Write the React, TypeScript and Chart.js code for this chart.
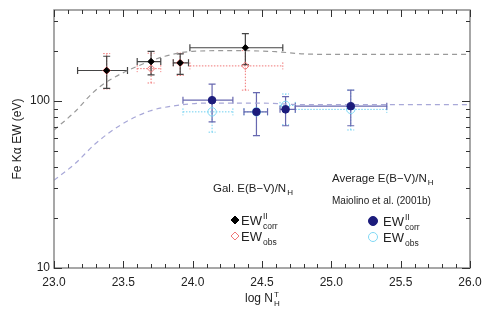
import React, { useEffect, useRef } from 'react';
import { Chart, registerables } from 'chart.js';
Chart.register(...registerables);

// Galactic E(B-V)/N_H points
const galX = [23.38, 23.70, 23.91, 24.38];
const galXLo = [23.17, 23.60, 23.86, 23.98];
const galXHi = [23.53, 23.77, 23.97, 24.65];
const galCorr = [152, 172, 169, 208];
const galCorrLo = [119, 143, 144, 165];
const galCorrHi = [185, 198, 191, 253];
const galObs = [152, 156, 169, 162];
const galObsLo = [118, 128, 142, 116];
const galObsHi = [192, 193, 193, 200];

// Maiolino et al. (2001b) points
const maiX = [24.14, 24.46, 24.67, 25.14];
const maiXLo = [23.93, 24.37, 24.63, 24.74];
const maiXHi = [24.29, 24.54, 24.74, 25.40];
const maiCorr = [101, 86, 89, 93];
const maiCorrLo = [75, 62, 71, 71];
const maiCorrHi = [126, 112, 106, 116];
const maiObs = [86, 86, 94, 89];
const maiObsLo = [65, 62, 72, 67];
const maiObsHi = [101, 112, 110, 116];

// model curves
const upperCurveX = [23.0, 23.15, 23.28, 23.38, 23.6, 23.8, 24.0, 24.3, 24.6, 24.8, 25.0, 26.0];
const upperCurveY = [67, 86, 112, 130, 161, 185, 198, 200, 197, 191, 190, 190];
const lowerCurveX = [23.0, 23.15, 23.3, 23.48, 23.69, 23.89, 24.1, 24.5, 24.8, 26.0];
const lowerCurveY = [33.5, 42, 55.6, 71.7, 87, 94, 97, 97, 95, 95];

// axes
const xTickValues = [23.0, 23.5, 24.0, 24.5, 25.0, 25.5, 26.0];
const yTickValues = [10, 100];
const X_MIN = 23, X_MAX = 26, Y_MIN = 10, Y_MAX = 350;

const FONT = '"Liberation Sans", Arial, sans-serif';
const TXT = '#222';

function pts(xs: number[], ys: number[]) {
  return xs.map((x, i) => ({ x, y: ys[i] }));
}

function drawErr(ctx: CanvasRenderingContext2D, xs: any, ys: any,
  x: number[], xlo: number[], xhi: number[], y: number[], ylo: number[], yhi: number[],
  color: string, dash: number[], width: number) {
  ctx.save();
  ctx.strokeStyle = color;
  ctx.lineWidth = width;
  ctx.setLineDash(dash);
  const cap = 3.5;
  for (let i = 0; i < x.length; i++) {
    const px = xs.getPixelForValue(x[i]);
    const py = ys.getPixelForValue(y[i]);
    const pxl = xs.getPixelForValue(xlo[i]);
    const pxh = xs.getPixelForValue(xhi[i]);
    const pyl = ys.getPixelForValue(ylo[i]);
    const pyh = ys.getPixelForValue(yhi[i]);
    ctx.beginPath();
    ctx.moveTo(pxl, py); ctx.lineTo(pxh, py);
    ctx.moveTo(pxl, py - cap); ctx.lineTo(pxl, py + cap);
    ctx.moveTo(pxh, py - cap); ctx.lineTo(pxh, py + cap);
    ctx.moveTo(px, pyl); ctx.lineTo(px, pyh);
    ctx.moveTo(px - cap, pyl); ctx.lineTo(px + cap, pyl);
    ctx.moveTo(px - cap, pyh); ctx.lineTo(px + cap, pyh);
    ctx.stroke();
  }
  ctx.restore();
}

// draws base text then optional superscript / subscript stacked at the same x
function drawSupSub(ctx: CanvasRenderingContext2D, x: number, y: number, base: string,
  sup: string, sub: string, size: number, subSize: number) {
  ctx.font = `${size}px ${FONT}`;
  ctx.textBaseline = 'alphabetic';
  ctx.textAlign = 'left';
  ctx.fillText(base, x, y);
  const w = ctx.measureText(base).width;
  ctx.font = `${subSize}px ${FONT}`;
  let sw = 0;
  if (sup) { ctx.fillText(sup, x + w + 1, y - size * 0.45); sw = ctx.measureText(sup).width; }
  if (sub) { ctx.fillText(sub, x + w + 1, y + size * 0.3); sw = Math.max(sw, ctx.measureText(sub).width); }
  return w + sw + 1;
}

const framePlugin = {
  id: 'frame',
  beforeDatasetsDraw(chart: any) {
    const ctx = chart.ctx;
    const xs = chart.scales.x, ys = chart.scales.y;
    drawErr(ctx, xs, ys, galX, galXLo, galXHi, galObs, galObsLo, galObsHi, '#f07878', [1.5, 1.5], 1);
    drawErr(ctx, xs, ys, maiX, maiXLo, maiXHi, maiObs, maiObsLo, maiObsHi, '#70d0f0', [1.5, 1.5], 1);
    drawErr(ctx, xs, ys, galX, galXLo, galXHi, galCorr, galCorrLo, galCorrHi, '#444', [], 1.2);
    drawErr(ctx, xs, ys, maiX, maiXLo, maiXHi, maiCorr, maiCorrLo, maiCorrHi, '#6868b0', [], 1.2);
  },
  afterDraw(chart: any) {
    const ctx: CanvasRenderingContext2D = chart.ctx;
    const a = chart.chartArea;
    const xs = chart.scales.x, ys = chart.scales.y;
    ctx.save();
    // frame
    ctx.strokeStyle = '#8a8a8a';
    ctx.lineWidth = 1.5;
    ctx.setLineDash([]);
    ctx.strokeRect(a.left, a.top, a.right - a.left, a.bottom - a.top);
    // ticks
    ctx.strokeStyle = '#333';
    ctx.lineWidth = 1;
    ctx.beginPath();
    for (let k = 0; k <= 30; k++) {
      const v = X_MIN + k * 0.1;
      const px = Math.round(xs.getPixelForValue(v)) + 0.5;
      const len = k % 5 === 0 ? 7 : 4;
      ctx.moveTo(px, a.bottom); ctx.lineTo(px, a.bottom - len);
      ctx.moveTo(px, a.top); ctx.lineTo(px, a.top + len);
    }
    for (let dec = 10; dec <= 100; dec *= 10) {
      for (let m = 1; m <= 9; m++) {
        const v = dec * m;
        if (v < Y_MIN || v > Y_MAX) continue;
        const py = Math.round(ys.getPixelForValue(v)) + 0.5;
        const len = m === 1 ? 8 : 4;
        ctx.moveTo(a.left, py); ctx.lineTo(a.left + len, py);
        ctx.moveTo(a.right, py); ctx.lineTo(a.right - len, py);
      }
    }
    ctx.stroke();

    // tick labels
    ctx.fillStyle = TXT;
    ctx.font = `12px ${FONT}`;
    ctx.textAlign = 'center';
    ctx.textBaseline = 'middle';
    xTickValues.forEach(v => ctx.fillText(v.toFixed(1), xs.getPixelForValue(v), a.bottom + 15));
    ctx.textAlign = 'right';
    yTickValues.forEach(v => ctx.fillText(String(v), a.left - 4, ys.getPixelForValue(v)));

    // axis titles
    ctx.textAlign = 'left';
    const logW = (() => { ctx.font = `12px ${FONT}`; return ctx.measureText('log N').width + 6; })();
    drawSupSub(ctx, (a.left + a.right) / 2 - logW / 2, a.bottom + 34, 'log N', 'T', 'H', 12, 8);

    ctx.save();
    ctx.translate(18, (a.top + a.bottom) / 2);
    ctx.rotate(-Math.PI / 2);
    ctx.font = `12px ${FONT}`;
    ctx.textAlign = 'center';
    ctx.textBaseline = 'middle';
    ctx.fillText('Fe Kα EW (eV)', 0, 0);
    ctx.restore();

    // annotations
    ctx.fillStyle = TXT;
    drawSupSub(ctx, 213, 192, 'Gal. E(B\u2212V)/N', '', 'H', 11.5, 8);
    drawSupSub(ctx, 332, 182, 'Average E(B\u2212V)/N', '', 'H', 11.5, 8);
    ctx.font = `10px ${FONT}`;
    ctx.textAlign = 'left';
    ctx.textBaseline = 'alphabetic';
    ctx.fillText('Maiolino et al. (2001b)', 332, 204);

    // legend markers
    const diamond = (cx: number, cy: number, r: number, fill: string | null, stroke: string) => {
      ctx.beginPath();
      ctx.moveTo(cx, cy - r); ctx.lineTo(cx + r, cy); ctx.lineTo(cx, cy + r); ctx.lineTo(cx - r, cy); ctx.closePath();
      if (fill) { ctx.fillStyle = fill; ctx.fill(); }
      ctx.strokeStyle = stroke; ctx.lineWidth = 1; ctx.stroke();
    };
    const circle = (cx: number, cy: number, r: number, fill: string | null, stroke: string) => {
      ctx.beginPath();
      ctx.arc(cx, cy, r, 0, Math.PI * 2);
      if (fill) { ctx.fillStyle = fill; ctx.fill(); }
      ctx.strokeStyle = stroke; ctx.lineWidth = 1; ctx.stroke();
    };
    diamond(235, 220, 4, '#000', '#000');
    diamond(235, 236, 4, null, '#f07878');
    circle(373, 221, 4.5, '#1c1c7c', '#1c1c7c');
    circle(373, 237, 4.5, null, '#80d8f4');
    ctx.fillStyle = TXT;
    drawSupSub(ctx, 241, 225, 'EW', 'II', 'corr', 13, 8.5);
    drawSupSub(ctx, 241, 241, 'EW', '', 'obs', 13, 8.5);
    ctx.fillStyle = TXT;
    drawSupSub(ctx, 383, 226, 'EW', 'II', 'corr', 13, 8.5);
    drawSupSub(ctx, 383, 242, 'EW', '', 'obs', 13, 8.5);
    ctx.restore();
  },
};

export default function App() {
  const ref = useRef<HTMLCanvasElement>(null);
  useEffect(() => {
    if (!ref.current) return;
    const chart = new Chart(ref.current, {
      type: 'scatter',
      data: {
        datasets: [
          {
            label: 'Gal EW corr', data: pts(galX, galCorr), pointStyle: 'rectRot',
            pointRadius: 3.2, backgroundColor: '#000', borderColor: '#000', borderWidth: 1,
          },
          {
            label: 'Maiolino EW corr', data: pts(maiX, maiCorr), pointStyle: 'circle',
            pointRadius: 3.8, backgroundColor: '#1c1c7c', borderColor: '#1c1c7c', borderWidth: 1,
          },
          {
            label: 'Gal EW obs', data: pts(galX, galObs), pointStyle: 'rectRot',
            pointRadius: 3.8, backgroundColor: 'rgba(0,0,0,0)', borderColor: '#f07878', borderWidth: 1,
          },
          {
            label: 'Maiolino EW obs', data: pts(maiX, maiObs), pointStyle: 'circle',
            pointRadius: 4.2, backgroundColor: 'rgba(0,0,0,0)', borderColor: '#80d8f4', borderWidth: 1,
          },
          {
            type: 'line', label: 'upper', data: pts(upperCurveX, upperCurveY),
            borderColor: '#9a9a9a', borderDash: [5, 4], borderWidth: 1.2, pointRadius: 0,
            cubicInterpolationMode: 'monotone', fill: false,
          } as any,
          {
            type: 'line', label: 'lower', data: pts(lowerCurveX, lowerCurveY),
            borderColor: '#a8a8d8', borderDash: [5, 4], borderWidth: 1.2, pointRadius: 0,
            cubicInterpolationMode: 'monotone', fill: false,
          } as any,
        ],
      },
      options: {
        responsive: false,
        animation: false,
        devicePixelRatio: 1,
        layout: { padding: { left: 54, right: 21, top: 10, bottom: 46 } },
        plugins: { legend: { display: false }, tooltip: { enabled: false } },
        scales: {
          x: { type: 'linear', min: X_MIN, max: X_MAX, display: false },
          y: { type: 'logarithmic', min: Y_MIN, max: Y_MAX, display: false },
        },
      },
      plugins: [framePlugin],
    });
    return () => chart.destroy();
  }, []);
  return (
    <div style={{ position: 'fixed', left: 0, top: 0, width: 491, height: 314, background: '#fff' }}>
      <canvas ref={ref} width={491} height={314} style={{ width: 491, height: 314 }} />
    </div>
  );
}
